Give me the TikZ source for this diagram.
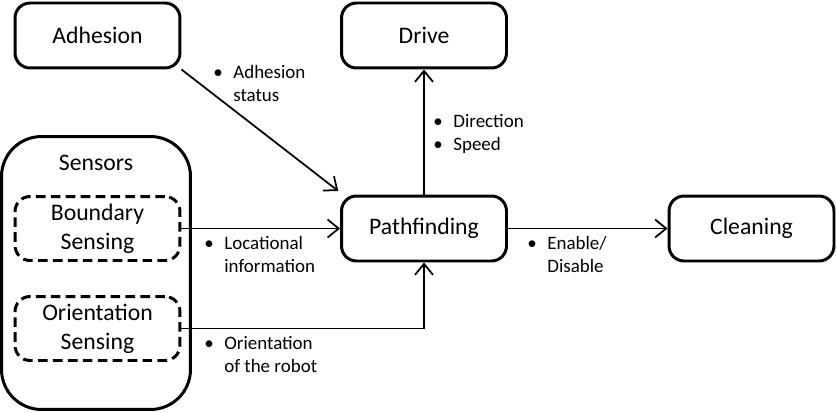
\documentclass[tikz,border=0pt]{standalone}
\usepackage{fontspec}
\setmainfont{Carlito}
\usetikzlibrary{arrows.meta}
\tikzset{
  block/.style={draw=black,line width=1.7pt,rounded corners=0.3cm,minimum width=3.3cm,minimum height=1.3cm,font=\fontsize{13.5}{16.5}\selectfont},
  subblock/.style={block,dash pattern=on 5.5pt off 3pt,align=center,inner sep=0},
  flow/.style={line width=1pt,-{Straight Barb[length=2.2mm,width=3.6mm]}},
  note/.style={anchor=north west,align=left,inner sep=0,font=\fontsize{10.8}{13}\selectfont}
}
\newcommand{\bitem}[2]{\makebox[0.4cm][l]{\textbullet}#1\\\hspace*{0.4cm}#2}
\newcommand{\bline}[1]{\makebox[0.4cm][l]{\textbullet}#1}

\begin{document}
\begin{tikzpicture}[x=0.02cm,y=-0.02cm]
\useasboundingbox (0,0) rectangle (837,412);

\node[block] (adh) at (97.5,35.5) {Adhesion};
\node[block] (drive) at (424,35.5) {Drive};
\node[block] (path) at (424,228.5) {Pathfinding};
\node[block] (clean) at (751.5,228.5) {Cleaning};

\node[block,minimum width=3.78cm,minimum height=5.46cm,rounded corners=0.8cm] (sens) at (96,273) {};
\node[font=\fontsize{13.5}{16.5}\selectfont] (senstitle) at (96,163) {Sensors};
\node[subblock,minimum height=1.28cm] (bound) at (97.5,228.5) {Boundary\\Sensing};
\node[subblock,minimum height=1.28cm] (orient) at (97.5,328.5) {Orientation\\Sensing};

\coordinate (bend) at (424,328.5);

\draw[flow] (adh.south east) -- ([xshift=-1pt,yshift=2pt]path.north west);
\draw[flow] (bound.east) -- (path.west);
\draw[flow] (orient.east) -- (bend) -- (path.south);
\draw[flow] (path.north) -- (drive.south);
\draw[flow] (path.east) -- (clean.west);

\node[note] (n1) at (213,65) {\bitem{Adhesion}{status}};
\node[note] (n2) at (433,114) {\bline{Direction}\\\bline{Speed}};
\node[note] (n3) at (204,236) {\bitem{Locational}{information}};
\node[note] (n4) at (204,336) {\bitem{Orientation}{of the robot}};
\node[note] (n5) at (527,236) {\bitem{Enable/}{Disable}};

\end{tikzpicture}
\end{document}
